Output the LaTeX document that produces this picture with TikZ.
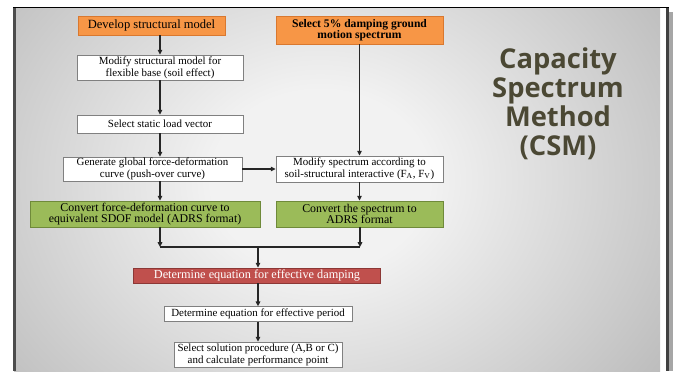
\documentclass[tikz,border=0pt]{standalone}
\usepackage{fontspec}
\setmainfont{Liberation Serif}
\newfontfamily\titlefont{Open Sans}
\usetikzlibrary{arrows.meta}

\definecolor{slidehi}{HTML}{F2F2F2}
\definecolor{slidelo}{HTML}{8E8E8E}
\definecolor{boxorange}{HTML}{F79646}
\definecolor{edgeorange}{HTML}{D9782F}
\definecolor{boxgreen}{HTML}{9BBB59}
\definecolor{edgegreen}{HTML}{6F8A3A}
\definecolor{boxred}{HTML}{C0504D}
\definecolor{edgered}{HTML}{8C3836}
\definecolor{titleolive}{RGB}{75,72,52}
\pgfdeclareradialshading{slidebg}{\pgfpoint{0bp}{0bp}}{color(0bp)=(slidehi); color(8bp)=(slidehi); color(50bp)=(slidelo)}

\begin{document}
\begin{tikzpicture}[x=0.75pt,y=-0.75pt]
\tikzset{
  stepbox/.style={draw=black!50,fill=white,line width=0.6pt,align=center,inner sep=0pt,
    font=\fontsize{8.2pt}{8.8pt}\selectfont},
  startbox/.style={stepbox,draw=edgeorange,fill=boxorange,font=\fontsize{9.4pt}{9pt}\selectfont},
  convbox/.style={stepbox,draw=edgegreen,fill=boxgreen,font=\fontsize{8.9pt}{8.6pt}\selectfont},
  keybox/.style={stepbox,draw=edgered,fill=boxred,text=white,font=\fontsize{9.2pt}{9pt}\selectfont},
  flow/.style={-{Triangle[length=3.6pt,width=3.4pt]},line width=1pt,black!85},
  link/.style={line width=1pt,black!85}
}
\useasboundingbox (0,0) rectangle (673,371);
\fill[white] (0,0) rectangle (673,371);
\fill[black!35] (669,12) rectangle (673,371);
\begin{scope}
  \clip (14,8) rectangle (668,371);
  \shade[shading=slidebg] (-20,-100) rectangle (660,460);
\end{scope}
\fill[black!70] (13,8) rectangle (16,371);
\fill[black!75] (666,8) rectangle (669,371);
\draw[black,line width=0.9pt] (13,7.6) -- (669,7.6);

\node[startbox,minimum width=110.25pt,minimum height=14.25pt] (n_develop) at (151.5,25.5) {Develop structural model};
\node[startbox,minimum width=125.25pt,minimum height=21pt,font=\bfseries\fontsize{8.7pt}{8.4pt}\selectfont] (n_ground) at (359.5,30) {Select 5\% damping ground\\motion spectrum};
\node[stepbox,minimum width=124.5pt,minimum height=18.75pt] (n_modbase) at (160,67.5) {Modify structural model for\\flexible base (soil effect)};
\node[stepbox,minimum width=124.5pt,minimum height=13.5pt] (n_loadvec) at (160,124) {Select static load vector};
\node[stepbox,minimum width=134.25pt,minimum height=18pt] (n_generate) at (152.5,169) {Generate global force-deformation\\curve (push-over curve)};
\node[stepbox,minimum width=125.25pt,minimum height=19.5pt] (n_modspec) at (359.5,169) {Modify spectrum according to\\soil-structural interactive (F\textsubscript{A}, F\textsubscript{V})};
\node[convbox,minimum width=172.5pt,minimum height=19.5pt] (n_sdof) at (145,214) {Convert force-deformation curve to\\equivalent SDOF model (ADRS format)};
\node[convbox,minimum width=125.25pt,minimum height=19.5pt] (n_adrs) at (359.5,214) {Convert the spectrum to\\ADRS format};
\node[keybox,minimum width=185.25pt,minimum height=11.25pt] (n_damping) at (257,275.5) {Determine equation for effective damping};
\node[stepbox,minimum width=141pt,minimum height=11pt] (n_period) at (258,314) {Determine equation for effective period};
\node[stepbox,minimum width=126pt,minimum height=18.75pt] (n_solution) at (258,354.5) {Select solution procedure (A,B or C)\\and calculate performance point};

\node[font=\titlefont\bfseries\fontsize{20.5pt}{21.75pt}\selectfont,text=titleolive,align=center] (n_title) at (558,104) {Capacity\\Spectrum\\Method\\(CSM)};

\coordinate (c_axis) at (160,0);
\coordinate (c_joinL) at (160,247);
\coordinate (c_joinR) at (360,247);
\coordinate (c_joinM) at (258,247);

\draw[flow] (n_develop.south -| c_axis) -- (n_modbase.north);
\draw[flow] (n_modbase.south) -- (n_loadvec.north);
\draw[flow] (n_loadvec.south) -- (n_generate.north -| c_axis);
\draw[flow] (n_generate.east) -- (n_modspec.west);
\draw[flow] (n_ground.south) -- (n_modspec.north);
\draw[flow] (n_generate.south -| c_axis) -- (n_sdof.north -| c_axis);
\draw[flow] (n_modspec.south) -- (n_adrs.north);
\draw[flow] (n_sdof.south -| c_axis) -- (c_joinL);
\draw[flow] (n_adrs.south -| c_joinR) -- (c_joinR);
\draw[link] (c_joinL) -- (c_joinR);
\draw[flow] (c_joinM) -- (c_joinM |- n_damping.north);
\draw[flow] (n_damping.south -| c_joinM) -- (n_period.north -| c_joinM);
\draw[flow] (n_period.south -| c_joinM) -- (n_solution.north -| c_joinM);
\end{tikzpicture}
\end{document}
